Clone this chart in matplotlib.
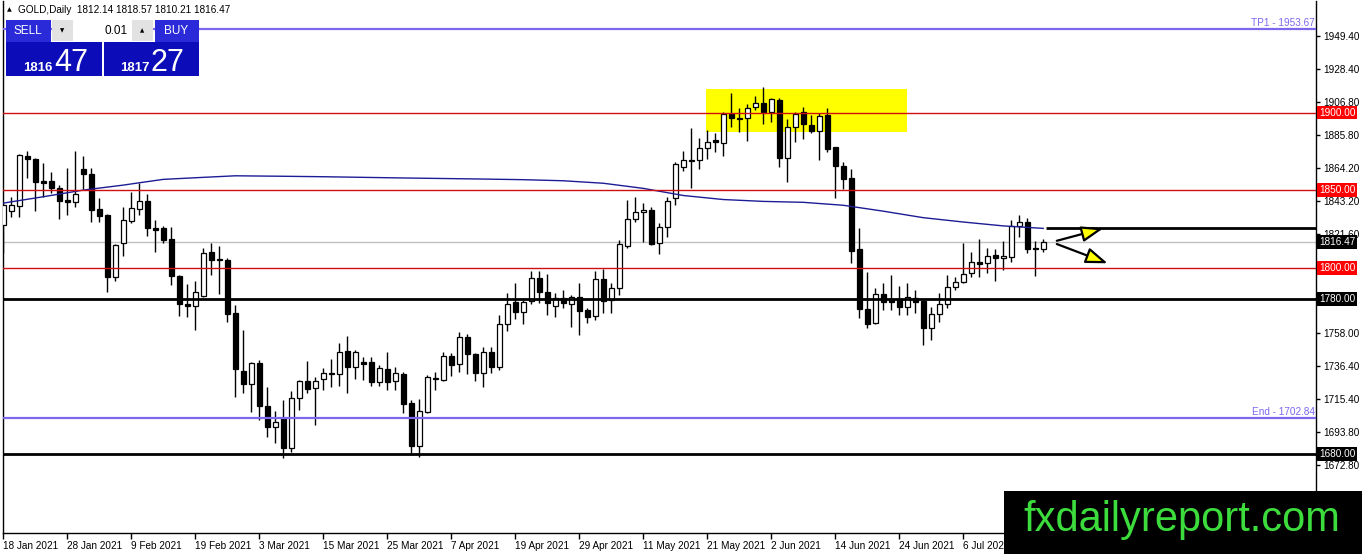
import matplotlib
matplotlib.use("Agg")
import matplotlib.pyplot as plt
from matplotlib.patches import Rectangle
from matplotlib.transforms import blended_transform_factory

plt.rcParams['font.family'] = ['Liberation Sans', 'DejaVu Sans']

# daily GOLD candles, 18 Jan 2021 .. 20 Jul 2021 (bar index 0..130)
opens = [1827.5, 1836.8, 1840.0, 1872.0, 1870.1, 1855.7, 1855.7, 1851.2, 1843.7, 1842.6,
         1863.7, 1860.4, 1837.9, 1834.0, 1793.8, 1815.8, 1830.3, 1837.7, 1843.0, 1825.6,
         1825.6, 1818.5, 1794.9, 1776.6, 1775.5, 1782.0, 1809.9, 1805.8, 1805.0, 1771.0,
         1733.6, 1724.8, 1738.4, 1711.1, 1697.5, 1703.3, 1683.6, 1715.8, 1726.8, 1722.3,
         1728.1, 1731.3, 1731.3, 1746.1, 1736.2, 1739.2, 1739.2, 1726.5, 1734.7, 1727.2,
         1731.5, 1712.6, 1685.3, 1707.2, 1728.1, 1727.6, 1743.1, 1737.7, 1755.2, 1744.2,
         1732.3, 1745.5, 1736.2, 1763.5, 1777.7, 1771.3, 1778.6, 1793.2, 1784.2, 1775.5,
         1780.3, 1776.6, 1781.3, 1772.7, 1768.9, 1792.5, 1779.2, 1786.7, 1814.2, 1831.2,
         1835.7, 1837.2, 1815.8, 1826.5, 1844.8, 1864.8, 1868.8, 1869.5, 1877.0, 1882.4,
         1880.2, 1898.9, 1895.9, 1896.3, 1903.4, 1906.4, 1900.2, 1908.1, 1870.6, 1890.9,
         1900.2, 1892.0, 1888.4, 1898.5, 1877.6, 1865.8, 1857.7, 1811.9, 1773.2, 1764.2,
         1782.9, 1779.2, 1779.2, 1774.9, 1780.3, 1778.7, 1760.9, 1770.0, 1776.4, 1787.4,
         1791.0, 1796.4, 1803.5, 1802.9, 1808.2, 1806.1, 1807.1, 1827.1, 1829.3, 1812.5,
         1812.14]
highs = [1841.7, 1845.4, 1873.3, 1875.3, 1870.6, 1867.3, 1861.5, 1853.3, 1864.1, 1875.3,
         1872.2, 1864.1, 1844.8, 1834.6, 1815.3, 1839.4, 1848.6, 1854.8, 1847.5, 1830.8,
         1826.9, 1826.1, 1795.3, 1789.5, 1791.6, 1812.9, 1815.8, 1814.0, 1806.0, 1776.0,
         1759.9, 1739.4, 1740.5, 1723.3, 1707.8, 1714.7, 1720.5, 1727.6, 1739.9, 1729.8,
         1735.2, 1741.2, 1751.3, 1756.2, 1747.0, 1742.6, 1742.2, 1737.3, 1745.5, 1736.2,
         1733.0, 1714.7, 1715.4, 1730.8, 1733.0, 1745.5, 1744.8, 1758.4, 1757.3, 1745.2,
         1749.1, 1749.1, 1769.5, 1783.5, 1789.9, 1779.2, 1798.1, 1797.9, 1795.8, 1783.5,
         1785.7, 1782.4, 1790.4, 1773.8, 1797.9, 1799.0, 1789.9, 1817.9, 1843.7, 1845.4,
         1841.5, 1839.4, 1829.0, 1845.8, 1868.4, 1875.5, 1889.9, 1883.4, 1888.8, 1886.7,
         1900.2, 1912.5, 1903.2, 1905.4, 1910.7, 1916.3, 1909.4, 1909.2, 1895.9, 1900.6,
         1903.4, 1898.5, 1899.6, 1902.8, 1878.0, 1868.4, 1863.5, 1825.4, 1797.1, 1786.7,
         1789.9, 1795.3, 1788.2, 1790.4, 1785.7, 1779.2, 1774.9, 1783.5, 1795.3, 1794.2,
         1815.8, 1810.0, 1818.3, 1812.5, 1812.1, 1817.2, 1830.8, 1834.0, 1832.3, 1817.2,
         1818.57]
lows = [1809.5, 1832.9, 1832.5, 1857.7, 1836.8, 1845.8, 1848.0, 1831.2, 1834.0, 1839.4,
        1850.8, 1829.3, 1829.7, 1784.5, 1791.6, 1807.8, 1828.6, 1834.0, 1820.6, 1810.3,
        1815.8, 1788.9, 1768.9, 1768.4, 1759.9, 1781.3, 1795.3, 1783.1, 1765.2, 1716.9,
        1719.0, 1707.2, 1701.8, 1691.1, 1686.8, 1677.1, 1681.4, 1708.3, 1719.0, 1698.6,
        1721.2, 1723.3, 1723.8, 1719.0, 1728.3, 1727.6, 1723.8, 1724.0, 1721.2, 1721.2,
        1706.2, 1679.2, 1678.1, 1706.2, 1721.2, 1727.0, 1730.2, 1732.6, 1731.3, 1727.2,
        1723.3, 1732.3, 1734.1, 1759.4, 1766.8, 1763.5, 1776.4, 1777.1, 1769.5, 1768.4,
        1773.8, 1762.0, 1756.6, 1764.2, 1766.3, 1770.6, 1770.6, 1782.4, 1812.5, 1829.7,
        1816.8, 1814.6, 1808.7, 1819.6, 1840.4, 1862.6, 1851.6, 1863.5, 1870.1, 1874.8,
        1872.0, 1890.9, 1887.7, 1881.9, 1901.7, 1892.7, 1894.2, 1865.1, 1855.5, 1881.3,
        1883.0, 1886.7, 1869.5, 1874.4, 1844.8, 1850.6, 1803.2, 1767.4, 1760.9, 1763.7,
        1772.7, 1772.7, 1769.5, 1769.5, 1770.6, 1750.2, 1753.4, 1765.2, 1774.2, 1785.7,
        1789.9, 1793.8, 1794.2, 1796.4, 1791.4, 1798.5, 1803.9, 1820.0, 1809.3, 1794.9,
        1810.21]
closes = [1840.4, 1840.4, 1872.7, 1869.9, 1855.5, 1854.8, 1851.2, 1843.2, 1842.6, 1847.5,
          1860.2, 1837.2, 1833.5, 1793.8, 1814.6, 1830.8, 1838.3, 1843.0, 1825.4, 1824.1,
          1818.1, 1794.9, 1776.4, 1775.5, 1784.2, 1809.3, 1805.0, 1804.8, 1770.2, 1734.7,
          1724.8, 1738.4, 1711.1, 1697.1, 1700.4, 1683.6, 1715.8, 1726.8, 1721.8, 1726.8,
          1731.9, 1731.9, 1745.5, 1736.2, 1745.5, 1738.1, 1726.5, 1735.2, 1726.5, 1732.3,
          1711.9, 1685.3, 1707.6, 1729.4, 1728.7, 1743.1, 1737.3, 1755.2, 1744.2, 1732.3,
          1745.5, 1736.2, 1763.5, 1776.4, 1771.3, 1778.1, 1793.2, 1784.2, 1777.1, 1780.3,
          1777.1, 1781.3, 1772.1, 1768.4, 1792.5, 1778.7, 1786.7, 1815.3, 1831.2, 1835.7,
          1837.2, 1815.1, 1826.5, 1843.2, 1866.7, 1869.5, 1869.5, 1877.0, 1881.3, 1880.9,
          1898.9, 1896.3, 1896.3, 1903.2, 1906.4, 1900.2, 1908.6, 1870.6, 1890.5, 1898.9,
          1892.5, 1888.2, 1897.8, 1876.5, 1865.8, 1857.0, 1811.0, 1773.2, 1763.7, 1782.9,
          1778.1, 1778.1, 1774.9, 1781.3, 1778.1, 1760.9, 1770.0, 1776.4, 1787.4, 1790.6,
          1795.8, 1803.5, 1802.4, 1807.8, 1806.1, 1807.6, 1826.9, 1829.3, 1811.9, 1811.9,
          1816.47]

# moving average at some bars
ma_idx = [0, 5, 10, 15, 17, 20, 25, 29, 35, 40, 50, 60, 65, 70, 75, 80, 85, 90, 95,
          100, 105, 110, 115, 120, 125, 130]
ma_val = [1841.7, 1845.8, 1850.1, 1853.3, 1854.8, 1857.0, 1858.3, 1859.3, 1859.0, 1858.7,
          1857.9, 1857.2, 1856.8, 1856.1, 1854.5, 1851.2, 1846.6, 1844.0, 1842.8,
          1842.2, 1840.3, 1836.5, 1832.3, 1829.5, 1827.0, 1825.4]

red_levels = [1900.0, 1850.0, 1800.0]
black_levels = [1780.0, 1680.0]
tp1 = 1953.67
end_level = 1702.84
bid = 1816.47
short_level = 1825.6

ytick_vals = [1949.40, 1928.40, 1906.80, 1885.80, 1864.20, 1843.20, 1821.60,
              1758.00, 1736.40, 1715.40, 1693.80, 1672.80]
xtick_pos = [0, 8, 16, 24, 32, 40, 48, 56, 64, 72, 80, 88, 96, 104, 112, 120]
xtick_lab = ['18 Jan 2021', '28 Jan 2021', '9 Feb 2021', '19 Feb 2021', '3 Mar 2021',
             '15 Mar 2021', '25 Mar 2021', '7 Apr 2021', '19 Apr 2021', '29 Apr 2021',
             '11 May 2021', '21 May 2021', '2 Jun 2021', '14 Jun 2021', '24 Jun 2021',
             '6 Jul 2021']

W, H = 1362, 554
fig = plt.figure(figsize=(W / 100, H / 100), dpi=100)
ax = fig.add_axes([3 / W, 21 / H, (1316 - 3) / W, 532 / H])
ax.set_xlim(-0.04, 164.1)
ax.set_ylim(1629.0, 1972.0)

# yellow zone behind the candles
ax.add_patch(Rectangle((87.8, 1887.5), 25.2, 27.7, fc='#ffff00', ec='none', zorder=0.5))

idx = list(range(len(opens)))
ax.vlines(idx, lows, highs, color='black', lw=1, zorder=2)
bottoms = [min(o, c) for o, c in zip(opens, closes)]
heights = [max(abs(c - o), 0.6) for o, c in zip(opens, closes)]
fills = ['white' if c >= o else 'black' for o, c in zip(opens, closes)]
ax.bar(idx, heights, bottom=bottoms, width=0.6, color=fills, edgecolor='black',
       linewidth=0.9, zorder=3)

ax.plot(ma_idx, ma_val, color='#1c1c96', lw=1, zorder=4)

# horizontal levels
for lv in red_levels:
    ax.axhline(lv, color='#d01010', lw=1, zorder=5)
for lv in black_levels:
    ax.axhline(lv, color='black', lw=2, zorder=5)
ax.axhline(bid, color='#c0c0c0', lw=1, zorder=1)
ax.axhline(tp1, color='#7b68ee', lw=1.6, zorder=5)
ax.axhline(end_level, color='#7b68ee', lw=1.6, zorder=5)
ax.hlines(short_level, 130.3, 164.1, color='black', lw=2, zorder=5)

tr = blended_transform_factory(ax.transAxes, ax.transData)
ax.text(0.999, tp1 + 0.8, 'TP1 - 1953.67', transform=tr, ha='right', va='bottom',
        color='#7b68ee', fontsize=7.2)
ax.text(0.999, end_level + 0.8, 'End - 1702.84', transform=tr, ha='right', va='bottom',
        color='#7b68ee', fontsize=7.2)

# arrows
for tip in [(137.5, 1825.4), (138.05, 1802.9)]:
    start = (131.7, 1817.4) if tip[1] > 1810 else (131.7, 1815.3)
    ax.annotate('', xy=tip, xytext=start,
                arrowprops=dict(arrowstyle='-|>,head_length=1.1,head_width=0.4',
                                fc='#ffff00', ec='black', lw=1.6, mutation_scale=12,
                                shrinkA=0, shrinkB=0), zorder=6)

# axes styling
for s in ['top']:
    ax.spines[s].set_visible(False)
for s in ['left', 'right', 'bottom']:
    ax.spines[s].set_linewidth(1)
ax.yaxis.tick_right()
ax.set_yticks(ytick_vals)
ax.set_yticklabels(['%.2f' % v for v in ytick_vals])
ax.tick_params(axis='y', direction='out', length=3, width=1, pad=2, labelsize=7.2)
ax.set_xticks(xtick_pos)
ax.set_xticklabels(xtick_lab, ha='left')
ax.tick_params(axis='x', direction='out', length=4, width=1, pad=2, labelsize=7.2)

# price boxes on the axis
boxes = [(1900.0, '#ff0000'), (1850.0, '#ff0000'), (1800.0, '#ff0000'),
         (1780.0, 'black'), (1680.0, 'black'), (bid, 'black')]
for lv, col in boxes:
    ax.text(1.0022, lv, '%.2f' % lv, transform=tr, ha='left', va='center', color='white',
            fontsize=7.2, bbox=dict(boxstyle='square,pad=0.18', fc=col, ec='none'),
            zorder=7)


def px_rect(x, y, w, h, col, z=10):
    fig.add_artist(Rectangle((x / W, 1 - (y + h) / H), w / W, h / H,
                             transform=fig.transFigure, fc=col, ec='none', zorder=z))


def px_text(x, y, s, **kw):
    fig.text(x / W, 1 - y / H, s, zorder=12, **kw)


# header
px_text(7, 10, '\u25b2', fontsize=4.5, va='center', family='DejaVu Sans')
px_text(18, 10, 'GOLD,Daily  1812.14 1818.57 1810.21 1816.47', fontsize=7.2, va='center')

# one-click trading panel
px_rect(6, 20, 45, 22, '#2a2ad8')
px_rect(155, 20, 44, 22, '#2a2ad8')
px_rect(52, 20, 101, 21, '#ffffff')
px_rect(52, 20, 21, 21, '#e2e2e2')
px_rect(132, 20, 21, 21, '#e2e2e2')
px_rect(6, 42, 96, 34, '#0c0cb8')
px_rect(104, 42, 95, 34, '#0c0cb8')
px_text(28, 30.5, 'SELL', fontsize=8.5, color='white', ha='center', va='center')
px_text(176, 30.5, 'BUY', fontsize=8.5, color='white', ha='center', va='center')
px_text(62, 30.5, '\u25bc', fontsize=4, ha='center', va='center', family='DejaVu Sans')
px_text(142, 30.5, '\u25b2', fontsize=4, ha='center', va='center', family='DejaVu Sans')
px_text(128, 30.5, '0.01', fontsize=8.5, ha='right', va='center')
px_text(23, 71, '1816', fontsize=9.5, fontweight='bold', color='white', va='baseline')
px_text(54, 71, '47', fontsize=22, color='white', va='baseline')
px_text(120, 71, '1817', fontsize=9.5, fontweight='bold', color='white', va='baseline')
px_text(151, 71, '27', fontsize=22, color='white', va='baseline')

# watermark
px_rect(1004, 491, 358, 63, 'black', z=20)
fig.text(1182 / W, 1 - 520 / H, 'fxdailyreport.com', ha='center', va='center',
         fontsize=30, color='#3ddc3d', family='Liberation Sans', zorder=21)

fig.savefig('out.png', dpi=100, facecolor='white')
